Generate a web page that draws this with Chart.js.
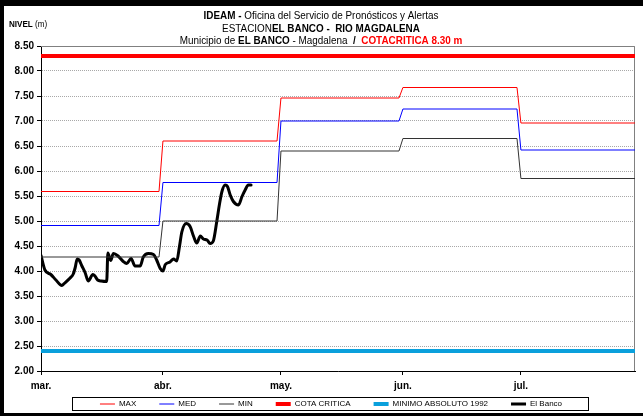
<!DOCTYPE html>
<html>
<head>
<meta charset="utf-8">
<script src="https://cdn.jsdelivr.net/npm/chart.js@4.4.0/dist/chart.umd.min.js"></script>
<style>
    html, body { margin: 0; padding: 0; background: #fff; }
    canvas { display: block; }
</style>
</head>
<body>
<canvas id="nivelChart" width="643" height="416"></canvas>
<script>
/* ==========================================
   DATA (days counted from 1 March)
========================================== */

const monthLabels = ["mar.", "abr.", "may.", "jun.", "jul."];
const monthStartDays = [0, 31, 61, 92, 122];
const lastDay = 151;

const maxLevels = [5.59, 6.60, 7.46, 7.67, 6.96];
const medLevels = [4.91, 5.77, 7.00, 7.24, 6.42];
const minLevels = [4.28, 5.00, 6.40, 6.65, 5.85];

const cotaCritica = 8.30;
const minimoAbsoluto = 2.40;

const bancoDays = [
    0, 1.0, 2.5, 3.8, 5.3, 5.9, 7.4, 8.2, 8.7, 9.2,
    9.7, 10.4, 11.2, 12.0, 13.2, 13.7, 14.4, 15.3, 16.7, 17.0,
    17.7, 18.4, 19.6, 20.9, 21.8, 22.9, 23.9, 25.2, 26.0, 27.3,
    28.6, 29.4, 30.3, 31.0, 31.6, 32.8, 33.7, 34.5, 35.2, 35.8,
    36.9, 37.9, 38.8, 39.6, 40.5, 41.3, 42.2, 43.0, 43.8, 44.7,
    45.4, 46.0, 46.8, 47.4, 48.1, 48.9, 50.2, 51.1, 51.9, 52.7, 53.4
];
const bancoLevels = [
    4.31, 4.02, 3.93, 3.82, 3.71, 3.75, 3.86, 3.94, 4.07, 4.24,
    4.22, 4.10, 3.97, 3.80, 3.93, 3.90, 3.82, 3.80, 3.79, 4.36,
    4.21, 4.35, 4.30, 4.19, 4.15, 4.25, 4.10, 4.10, 4.28, 4.35,
    4.33, 4.22, 4.05, 4.00, 4.13, 4.18, 4.24, 4.20, 4.49, 4.78,
    4.95, 4.89, 4.69, 4.56, 4.70, 4.64, 4.62, 4.55, 4.60, 5.00,
    5.35, 5.59, 5.72, 5.69, 5.52, 5.39, 5.32, 5.49, 5.62, 5.72, 5.72
];

/* ==========================================
   HELPERS
========================================== */

const FONT = '"Liberation Sans", Arial, sans-serif';

// monthly level -> step points (first and last day of each month)
function stepPoints(levels) {
    const pts = [];
    levels.forEach((v, i) => {
        const end = i < monthStartDays.length - 1 ? monthStartDays[i + 1] - 1 : lastDay;
        pts.push({ x: monthStartDays[i], y: v });
        pts.push({ x: end, y: v });
    });
    return pts;
}

function flatLine(v) {
    return [{ x: 0, y: v }, { x: lastDay, y: v }];
}

// rich text line, squeezed horizontally to look like a narrow font
function drawRich(ctx, parts, cx, y, size, squeeze) {
    let total = 0;
    parts.forEach(p => {
        ctx.font = p[1] + " " + size + "px " + FONT;
        total += ctx.measureText(p[0]).width;
    });
    ctx.save();
    ctx.translate(cx - total * squeeze / 2, y);
    ctx.scale(squeeze, 1);
    let x = 0;
    parts.forEach(p => {
        ctx.font = p[1] + " " + size + "px " + FONT;
        ctx.fillStyle = p[2] || "#000";
        ctx.fillText(p[0], x, 0);
        x += ctx.measureText(p[0]).width;
    });
    ctx.restore();
}

/* ==========================================
   DECORATION PLUGIN
========================================== */

const titleLines = [
    [["IDEAM - ", "bold"], ["Oficina del Servicio de Pronósticos y Alertas", "normal"]],
    [["ESTACION", "normal"], ["EL BANCO -  RIO MAGDALENA", "bold"]],
    [["Municipio de ", "normal"], ["EL BANCO", "bold"], [" - Magdalena  ", "normal"], ["/  ", "bold"], ["COTACRITICA 8.30 m", "bold", "#FF0000"]]
];

const decoration = {
    id: "decoration",

    afterLayout(chart) {
        const lg = chart.legend;
        const pad = lg.options.labels.padding;
        const size = lg.options.labels.font.size;
        const dy = 404 - pad - size / 2 - lg.top;
        lg.top += dy;
        lg.bottom += dy;
        const dx = 331 - (lg.left + lg.right) / 2;
        lg.left += dx;
        lg.right += dx;
    },

    beforeDraw(chart) {
        const { ctx, width, height } = chart;
        ctx.save();
        ctx.fillStyle = "#fff";
        ctx.fillRect(0, 0, width, height);
        ctx.fillStyle = "#000";
        ctx.fillRect(0, 0, width, 6);
        ctx.fillRect(0, 0, 4, height);
        ctx.fillRect(0, height - 3, width, 3);
        ctx.restore();
    },

    beforeDatasetsDraw(chart) {
        const { ctx, chartArea: a } = chart;
        ctx.save();
        ctx.strokeStyle = "#808080";
        ctx.lineWidth = 1;
        ctx.beginPath();
        ctx.moveTo(a.left, a.top + 0.5);
        ctx.lineTo(a.right - 0.5, a.top + 0.5);
        ctx.lineTo(a.right - 0.5, a.bottom);
        ctx.stroke();
        ctx.restore();
    },

    afterDraw(chart) {
        const ctx = chart.ctx;
        ctx.save();
        ctx.textBaseline = "middle";
        const ys = [16, 28.5, 40.5];
        titleLines.forEach((line, i) => drawRich(ctx, line, 321, ys[i], 11, 0.9));

        drawRich(ctx, [["NIVEL", "bold"], [" (m)", "normal"]], 28, 25, 9, 0.9);

        // legend frame
        const lg = chart.legend;
        if (lg && lg.lineWidths) {
            const pad = lg.options.labels.padding;
            const lw = lg.lineWidths[0];
            const start = (lg.left + pad + lg.right - lw) / 2;
            const end = start + lw - pad;
            ctx.strokeStyle = "#000";
            ctx.lineWidth = 1;
            ctx.strokeRect(Math.round(start - 28) + 0.5, 397.5, Math.round(end - start + 54), 13);
        }
        ctx.restore();
    }
};

/* ==========================================
   CHART
========================================== */

function initializeChart() {
    const canvas = document.getElementById("nivelChart");

    const line = (label, data, color, width, extra) => Object.assign({
        label: label,
        data: data,
        borderColor: color,
        backgroundColor: color,
        borderWidth: width,
        pointRadius: 0,
        fill: false,
        tension: 0
    }, extra || {});

    new Chart(canvas, {
        type: "line",

        data: {
            datasets: [
                line("MAX", stepPoints(maxLevels), "#FF0000", 1),
                line("MED", stepPoints(medLevels), "#0000FF", 1),
                line("MIN", stepPoints(minLevels), "#333333", 1),
                line("COTA CRITICA", flatLine(cotaCritica), "#FF0000", 4),
                line("MINIMO ABSOLUTO 1992", flatLine(minimoAbsoluto), "#0AA0DC", 4),
                line("El Banco", bancoDays.map((d, i) => ({ x: d, y: bancoLevels[i] })), "#000000", 3,
                    { cubicInterpolationMode: "monotone", borderJoinStyle: "round", borderCapStyle: "round" })
            ]
        },

        options: {
            responsive: false,
            animation: false,
            devicePixelRatio: 1,

            layout: {
                padding: { left: 0, top: 46, right: 8, bottom: -16 }
            },

            plugins: {
                legend: {
                    position: "bottom",
                    labels: {
                        usePointStyle: true,
                        pointStyle: "line",
                        pointStyleWidth: 15,
                        padding: 23,
                        color: "#000",
                        font: { family: FONT, size: 8 },
                        sort: (a, b) => a.datasetIndex - b.datasetIndex
                    }
                },
                tooltip: { enabled: false }
            },

            scales: {
                x: {
                    type: "linear",
                    min: 0,
                    max: lastDay,
                    afterBuildTicks: scale => {
                        scale.ticks = monthStartDays.map(v => ({ value: v }));
                    },
                    afterFit: scale => { scale.height = 20; },
                    ticks: {
                        autoSkip: false,
                        maxRotation: 0,
                        padding: 5,
                        color: "#000",
                        font: { family: FONT, size: 10, weight: "bold" },
                        callback: v => monthLabels[monthStartDays.indexOf(v)]
                    },
                    grid: {
                        drawOnChartArea: false,
                        tickLength: 4,
                        tickColor: "#000"
                    },
                    border: { color: "#000", width: 1 }
                },

                y: {
                    min: 2,
                    max: 8.5,
                    afterFit: scale => { scale.width = 41; },
                    ticks: {
                        stepSize: 0.5,
                        padding: 3,
                        color: "#000",
                        font: { family: FONT, size: 10, weight: "bold" },
                        callback: v => v.toFixed(2)
                    },
                    grid: {
                        color: "#A8A8A8",
                        tickColor: "#000",
                        tickLength: 4
                    },
                    border: { color: "#000", width: 1, dash: [1, 1] }
                }
            }
        },

        plugins: [decoration]
    });
}

document.addEventListener("DOMContentLoaded", initializeChart);
</script>
</body>
</html>
